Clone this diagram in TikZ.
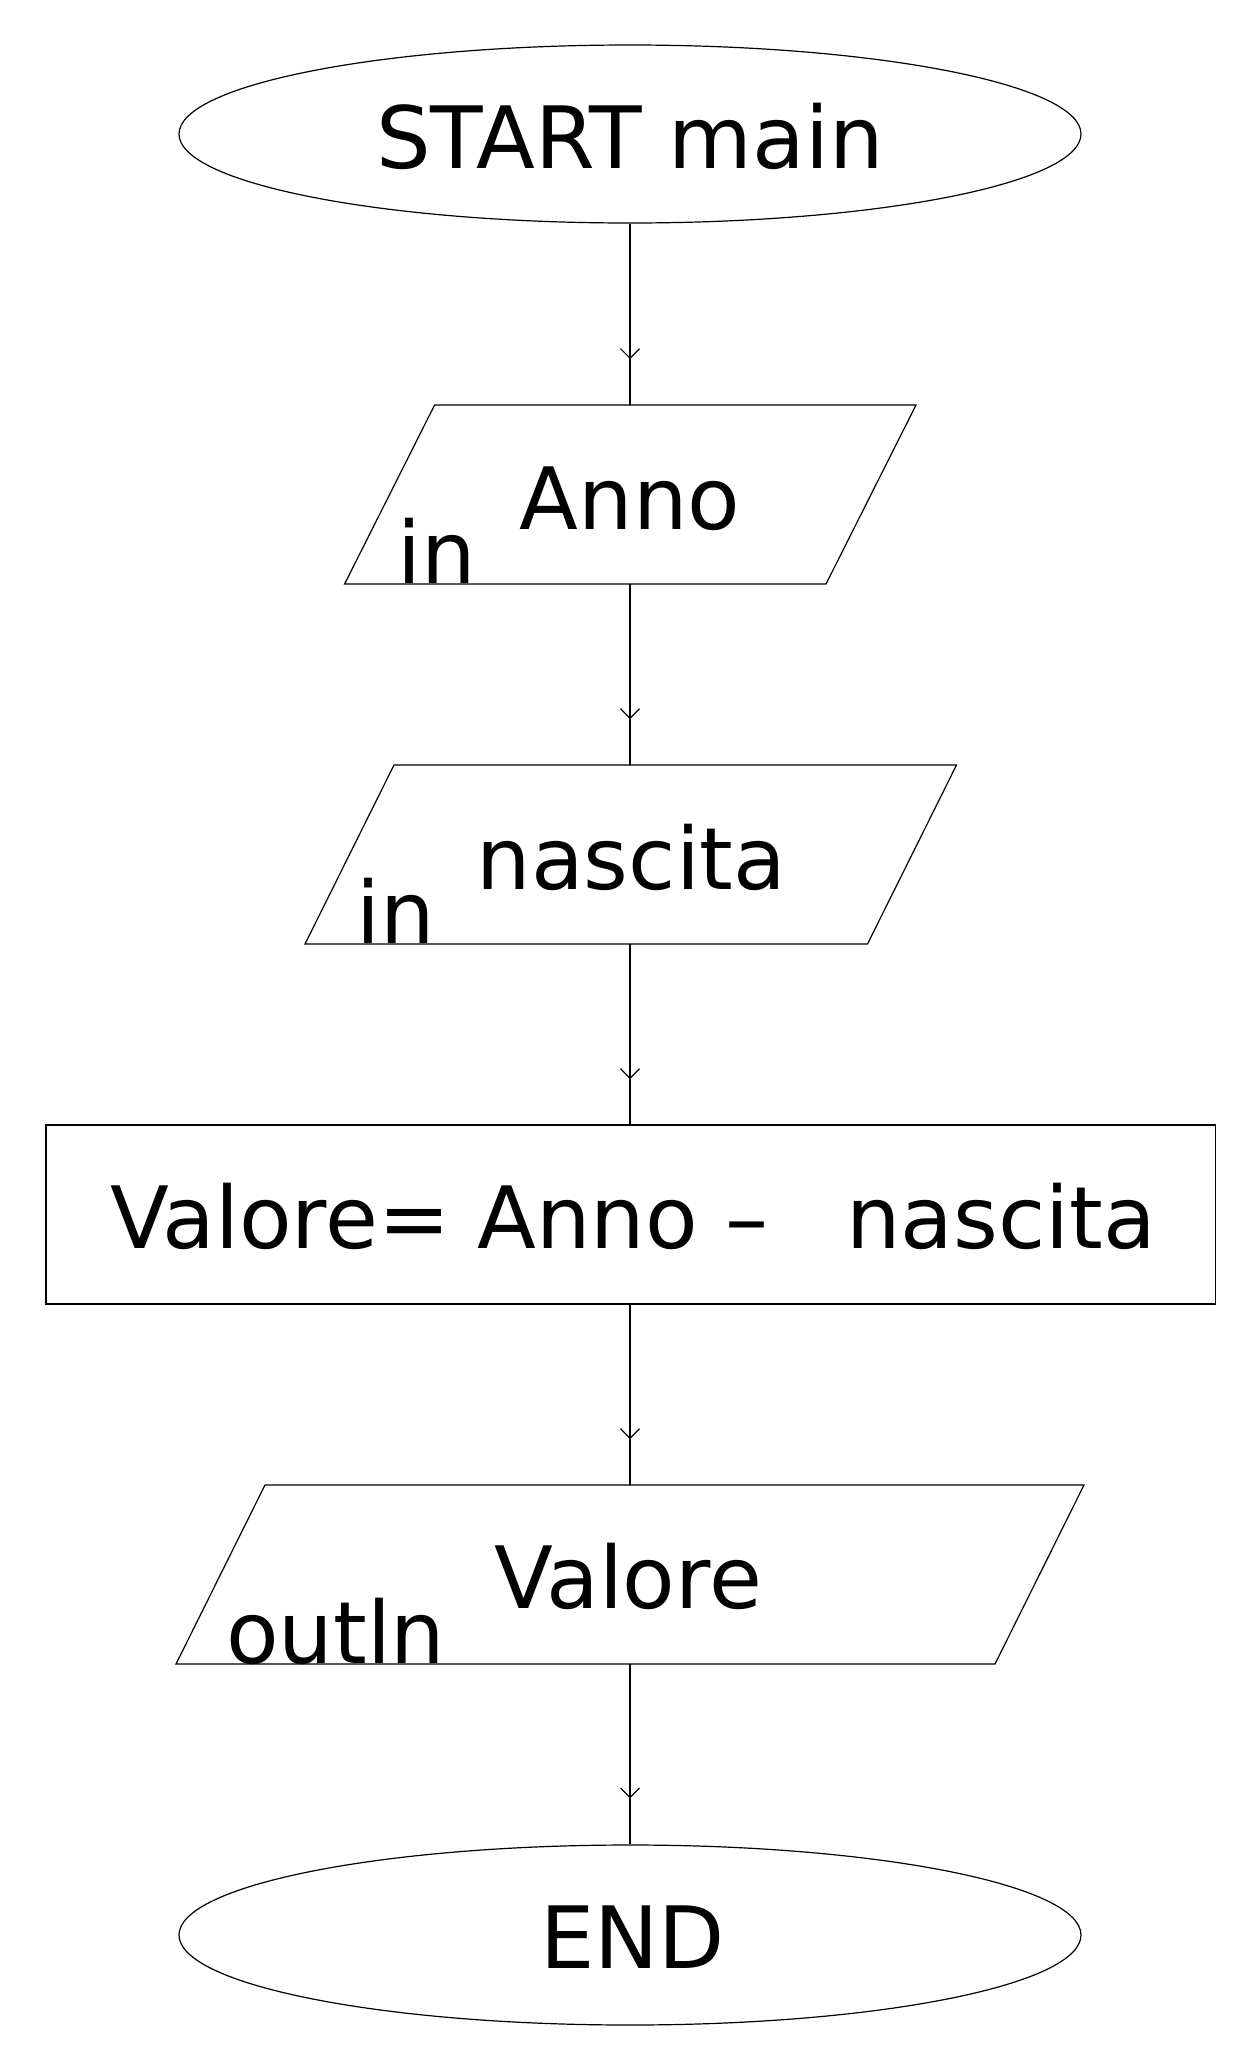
\documentclass[tikz,border=0pt]{standalone}
\usepackage{fontspec}
\setmainfont{DejaVu Sans}
\usetikzlibrary{shapes.geometric,calc,decorations.markings,arrows.meta}
\tikzset{
  lbl/.style={inner sep=0pt, font=\fontsize{86}{90}\selectfont},
  shapeline/.style={draw=black, line width=1.2pt},
  term/.style={shapeline, ellipse, inner sep=0pt},
  box/.style={inner sep=0pt, outer sep=0pt},
  flow/.style={line width=1.2pt, postaction={decorate},
    decoration={markings, mark=at position -46pt with {\arrow{Straight Barb[length=9.5pt,width=19pt]}}}}
}
\begin{document}
\begin{tikzpicture}[x=1pt,y=-1pt]
\useasboundingbox[fill=white] (0,0) rectangle (1260,2070);

% shapes
\node[term, minimum width=902pt, minimum height=178pt] (start) at (630,134) {};
\node[box, minimum width=571.4pt, minimum height=179pt] (p1) at (630.3,494.5) {};
\node[box, minimum width=651.5pt, minimum height=179pt] (p2) at (630.75,854.5) {};
\node[box, shapeline, minimum width=1169.5pt, minimum height=179pt] (calc) at (630.75,1214.5) {};
\node[box, minimum width=908pt, minimum height=179pt] (p3) at (630,1574.5) {};
\node[term, minimum width=902pt, minimum height=180pt] (end) at (630,1935) {};

\draw[shapeline] ($(p1.north west)+(90,0)$) -- (p1.north east) -- ($(p1.south east)+(-90,0)$) -- (p1.south west) -- cycle;
\draw[shapeline] ($(p2.north west)+(89,0)$) -- (p2.north east) -- ($(p2.south east)+(-89,0)$) -- (p2.south west) -- cycle;
\draw[shapeline] ($(p3.north west)+(89,0)$) -- (p3.north east) -- ($(p3.south east)+(-89,0)$) -- (p3.south west) -- cycle;

% texts
\node[lbl, anchor=base] (tstart) at (630,168) {START main};
\node[lbl, anchor=base] (tanno) at (630,529) {Anno};
\node[lbl, anchor=base west] (tin1) at (397,583) {in};
\node[lbl, anchor=base] (tnascita) at (631.5,889) {nascita};
\node[lbl, anchor=base west] (tin2) at (356,943) {in};
\node[lbl, anchor=base west] (tcalc) at (110,1248) {Valore= Anno –\hspace{78pt}nascita};
\node[lbl, anchor=base] (tvalore) at (628,1608) {Valore};
\node[lbl, anchor=base west] (tout) at (226,1663) {outln};
\node[lbl, anchor=base] (tend) at (632.5,1968) {END};

% connectors
\draw[flow] (start.south) -- (start.south |- p1.north);
\draw[flow] (start.south |- p1.south) -- (start.south |- p2.north);
\draw[flow] (start.south |- p2.south) -- (start.south |- calc.north);
\draw[flow] (start.south |- calc.south) -- (start.south |- p3.north);
\draw[flow] (start.south |- p3.south) -- (end.north);
\end{tikzpicture}
\end{document}
